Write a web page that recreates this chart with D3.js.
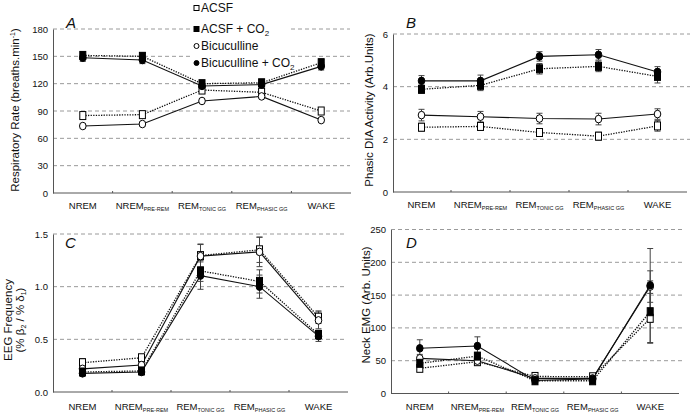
<!DOCTYPE html>
<html><head><meta charset="utf-8">
<script src="https://cdn.jsdelivr.net/npm/d3@7"></script>
<style>body{margin:0;background:#fff}svg{display:block;font-family:"Liberation Sans",Arial,sans-serif}</style>
</head><body><svg id="c" width="693" height="417"></svg>
<script>
// ---- data ----
const categories = ["NREM","NREM|PRE-REM","REM|TONIC GG","REM|PHASIC GG","WAKE"];
const seriesNames = ["ACSF","ACSF + CO2","Bicuculline","Bicuculline + CO2"];

// Panel A: Respiratory rate
const aACSF = [85, 86, 113, 110.5, 90];
const aACSFCO2 = [151, 150, 120, 121, 143];
const aBic = [73.5, 75.7, 101, 106, 80];
const aBicCO2 = [148.5, 146, 117.5, 119, 139];
const aErrACSF = [3, 3, 3, 3, 3];
const aErrACSFCO2 = [4, 4, 3, 3, 4];
const aErrBic = [2, 2, 2, 2, 2];
const aErrBicCO2 = [4, 4, 3, 3, 4];
const aTicks = [0, 30, 60, 90, 120, 150, 180];

// Panel B: Phasic DIA activity
const bACSF = [2.46, 2.49, 2.26, 2.12, 2.51];
const bACSFCO2 = [3.9, 4.05, 4.68, 4.77, 4.39];
const bBic = [2.92, 2.86, 2.79, 2.77, 2.96];
const bBicCO2 = [4.22, 4.22, 5.15, 5.21, 4.56];
const bErrACSF = [0.15, 0.15, 0.15, 0.15, 0.2];
const bErrACSFCO2 = [0.15, 0.2, 0.2, 0.2, 0.25];
const bErrBic = [0.22, 0.2, 0.2, 0.22, 0.2];
const bErrBicCO2 = [0.2, 0.22, 0.18, 0.2, 0.2];
const bTicks = [0, 2, 4, 6];

// Panel C: EEG frequency
const cACSF = [0.278, 0.325, 1.295, 1.35, 0.71];
const cACSFCO2 = [0.19, 0.2, 1.15, 1.05, 0.546];
const cBic = [0.22, 0.256, 1.29, 1.33, 0.68];
const cBicCO2 = [0.177, 0.19, 1.105, 1.0, 0.53];
const cErrACSF = [0.04, 0.02, 0.11, 0.12, 0.06];
const cErrACSFCO2 = [0.02, 0.02, 0.1, 0.11, 0.04];
const cErrBic = [0.03, 0.02, 0.11, 0.14, 0.08];
const cErrBicCO2 = [0.02, 0.02, 0.13, 0.11, 0.05];
const cTicks = [0, 0.5, 1.0, 1.5];

// Panel D: Neck EMG
const dACSF = [38.4, 48.5, 26, 25.5, 114.6];
const dACSFCO2 = [46, 57, 19.4, 19.4, 124.7];
const dBic = [53.6, 50, 23, 23, 163];
const dBicCO2 = [68.9, 72.4, 20, 22, 165];
const dErrACSF = [5, 5, 3, 3, 38];
const dErrACSFCO2 = [5, 5, 3, 3, 47];
const dErrBic = [6, 6, 3, 3, 24];
const dErrBicCO2 = [13, 14, 3, 3, 56];
const dTicks = [0, 50, 100, 150, 200, 250];

// ---- drawing ----
const svg = d3.select("#c");

function panel(cfg) {
  const g = svg.append("g");
  const x = d3.scaleBand().domain(categories).range(cfg.xr);
  const y = d3.scaleLinear().domain(cfg.dom).range(cfg.yr);
  // grid
  g.selectAll(".grid").data(cfg.ticks.filter(t => t > 0)).join("line")
    .attr("x1", cfg.ax).attr("x2", cfg.gridEnd)
    .attr("y1", d => y(d)).attr("y2", d => y(d))
    .attr("stroke", "#9a9a9a").attr("stroke-width", 1).attr("stroke-dasharray", "4,3");
  // y axis
  const ya = d3.axisLeft(y).tickValues(cfg.ticks).tickSize(0).tickPadding(5).tickFormat(cfg.fmt);
  const yg = g.append("g").attr("transform", `translate(${cfg.ax},0)`).call(ya);
  yg.select(".domain").attr("stroke", "#555");
  yg.selectAll("text").attr("font-size", "9.5px").attr("fill", "#111").attr("font-family", "Liberation Sans, Arial");
  // x axis
  const xa = d3.axisBottom(x).tickSize(0).tickFormat("");
  const xg = g.append("g").attr("transform", `translate(0,${cfg.yr[0]})`).call(xa);
  xg.select(".domain").attr("stroke", "#555");
  xg.select(".domain").attr("d", `M${cfg.ax},0H${cfg.xr[1]}`);
  // little ticks at band boundaries
  g.selectAll(".bt").data(categories.slice(1)).join("line")
    .attr("x1", d => x(d)).attr("x2", d => x(d))
    .attr("y1", cfg.yr[0]).attr("y2", cfg.yr[0] - 2).attr("stroke", "#555");
  // x labels
  const lab = g.selectAll(".xl").data(categories).join("text")
    .attr("x", d => x(d) + x.bandwidth() / 2).attr("y", cfg.labY)
    .attr("text-anchor", "middle").attr("font-size", "9.5px").attr("fill", "#111");
  lab.each(function(d) {
    const parts = d.split("|");
    const t = d3.select(this);
    t.append("tspan").text(parts[0]);
    if (parts[1]) t.append("tspan").attr("font-size", "5.5px").attr("dy", "1.5").text(parts[1]);
  });
  // series
  const series = [
    {v: cfg.s[0], e: cfg.e[0], dash: true, shape: "sq", fill: "#fff"},
    {v: cfg.s[2], e: cfg.e[2], dash: false, shape: "ci", fill: "#fff"},
    {v: cfg.s[1], e: cfg.e[1], dash: true, shape: "sq", fill: "#000"},
    {v: cfg.s[3], e: cfg.e[3], dash: false, shape: "ci", fill: "#000"}
  ];
  const cx = i => x(categories[i]) + x.bandwidth() / 2;
  const line = d3.line().x((d, i) => cx(i)).y(d => y(d));
  series.forEach(s => {
    s.v.forEach((v, i) => {
      const e = s.e[i];
      g.append("line").attr("x1", cx(i)).attr("x2", cx(i)).attr("y1", y(v - e)).attr("y2", y(v + e))
        .attr("stroke", "#444").attr("stroke-width", 1);
      [v - e, v + e].forEach(w => g.append("line").attr("x1", cx(i) - 3).attr("x2", cx(i) + 3)
        .attr("y1", y(w)).attr("y2", y(w)).attr("stroke", "#444").attr("stroke-width", 1));
    });
  });
  series.forEach(s => {
    g.append("path").attr("d", line(s.v)).attr("fill", "none").attr("stroke", "#111")
      .attr("stroke-width", s.dash ? 1.3 : 1.1).attr("stroke-dasharray", s.dash ? "1.3,1.3" : null);
  });
  series.forEach(s => {
    s.v.forEach((v, i) => {
      if (s.shape === "sq") {
        g.append("rect").attr("x", cx(i) - 3).attr("y", y(v) - 4).attr("width", 6).attr("height", 8)
          .attr("fill", s.fill).attr("stroke", "#000").attr("stroke-width", 1);
      } else {
        g.append("ellipse").attr("cx", cx(i)).attr("cy", y(v)).attr("rx", 3.3).attr("ry", 3.8)
          .attr("fill", s.fill).attr("stroke", "#000").attr("stroke-width", 1);
      }
    });
  });
  g.append("text").attr("x", cfg.letter[0]).attr("y", cfg.letter[1]).text(cfg.name)
    .attr("font-size", "15px").attr("font-style", "italic").attr("fill", "#111");
  const yl = g.append("text").attr("transform", `translate(${cfg.ylab[0]},${cfg.ylab[1]}) rotate(-90)`)
    .attr("text-anchor", "middle").attr("font-size", "11.5px").attr("fill", "#111");
  cfg.ylabel(yl);
  return g;
}

panel({name: "A", ax: 53, xr: [53, 351], yr: [193, 29], dom: [0, 180], ticks: aTicks, gridEnd: 350,
  fmt: d3.format("d"), labY: 209, letter: [66, 28], ylab: [19, 110],
  s: [aACSF, aACSFCO2, aBic, aBicCO2], e: [aErrACSF, aErrACSFCO2, aErrBic, aErrBicCO2],
  ylabel: t => { t.append("tspan").text("Respiratory Rate (breaths.min"); t.append("tspan").attr("font-size", "7px").attr("dy", "-4").text("-1"); t.append("tspan").attr("dy", "4").text(")"); }});

panel({name: "B", ax: 393, xr: [392, 687], yr: [192, 34], dom: [0, 6], ticks: bTicks, gridEnd: 690,
  fmt: d3.format("d"), labY: 208, letter: [406, 28], ylab: [373, 110],
  s: [bACSF, bACSFCO2, bBic, bBicCO2], e: [bErrACSF, bErrACSFCO2, bErrBic, bErrBicCO2],
  ylabel: t => t.text("Phasic DIA  Activity (Arb.Units)")});

panel({name: "C", ax: 53, xr: [53, 348], yr: [392, 234], dom: [0, 1.5], ticks: cTicks, gridEnd: 347,
  fmt: d3.format(".1f"), labY: 410, letter: [65, 248], ylab: [12, 320],
  s: [cACSF, cACSFCO2, cBic, cBicCO2], e: [cErrACSF, cErrACSFCO2, cErrBic, cErrBicCO2],
  ylabel: t => {
    t.append("tspan").attr("x", 0).attr("dy", 0).text("EEG Frequency");
    const l2 = t.append("tspan").attr("x", 0).attr("dy", 12);
    l2.append("tspan").text("(% β");
    l2.append("tspan").attr("font-size", "7px").attr("dy", 2).text("2");
    l2.append("tspan").attr("dy", -2).text(" / % δ");
    l2.append("tspan").attr("font-size", "7px").attr("dy", 2).text("1");
    l2.append("tspan").attr("dy", -2).text(")");
  }});

panel({name: "D", ax: 391, xr: [391, 679], yr: [393.5, 229.5], dom: [0, 250], ticks: dTicks, gridEnd: 682,
  fmt: d3.format("d"), labY: 410, letter: [406, 248], ylab: [370, 305],
  s: [dACSF, dACSFCO2, dBic, dBicCO2], e: [dErrACSF, dErrACSFCO2, dErrBic, dErrBicCO2],
  ylabel: t => t.text("Neck EMG (Arb. Units)")});

// legend
const leg = svg.append("g");
leg.append("rect").attr("x", 190).attr("y", 0).attr("width", 98).attr("height", 70).attr("fill", "#fff");
const legY = [8, 29, 46, 63];
const legShape = ["sq", "sq", "ci", "ci"];
const legFill = ["#fff", "#000", "#fff", "#000"];
seriesNames.forEach((n, i) => {
  if (legShape[i] === "sq") leg.append("rect").attr("x", 194).attr("y", legY[i] - 2.5).attr("width", 5).attr("height", 5)
    .attr("fill", legFill[i]).attr("stroke", "#000");
  else leg.append("circle").attr("cx", 196.5).attr("cy", legY[i]).attr("r", 2.5).attr("fill", legFill[i]).attr("stroke", "#000");
  const t = leg.append("text").attr("x", 201).attr("y", legY[i] + 4).attr("font-size", "12px").attr("fill", "#111");
  if (n.endsWith("CO2")) {
    t.append("tspan").text(n.slice(0, -1));
    t.append("tspan").attr("font-size", "8px").attr("dy", 3).text("2");
  } else t.text(n);
});
</script></body></html>
